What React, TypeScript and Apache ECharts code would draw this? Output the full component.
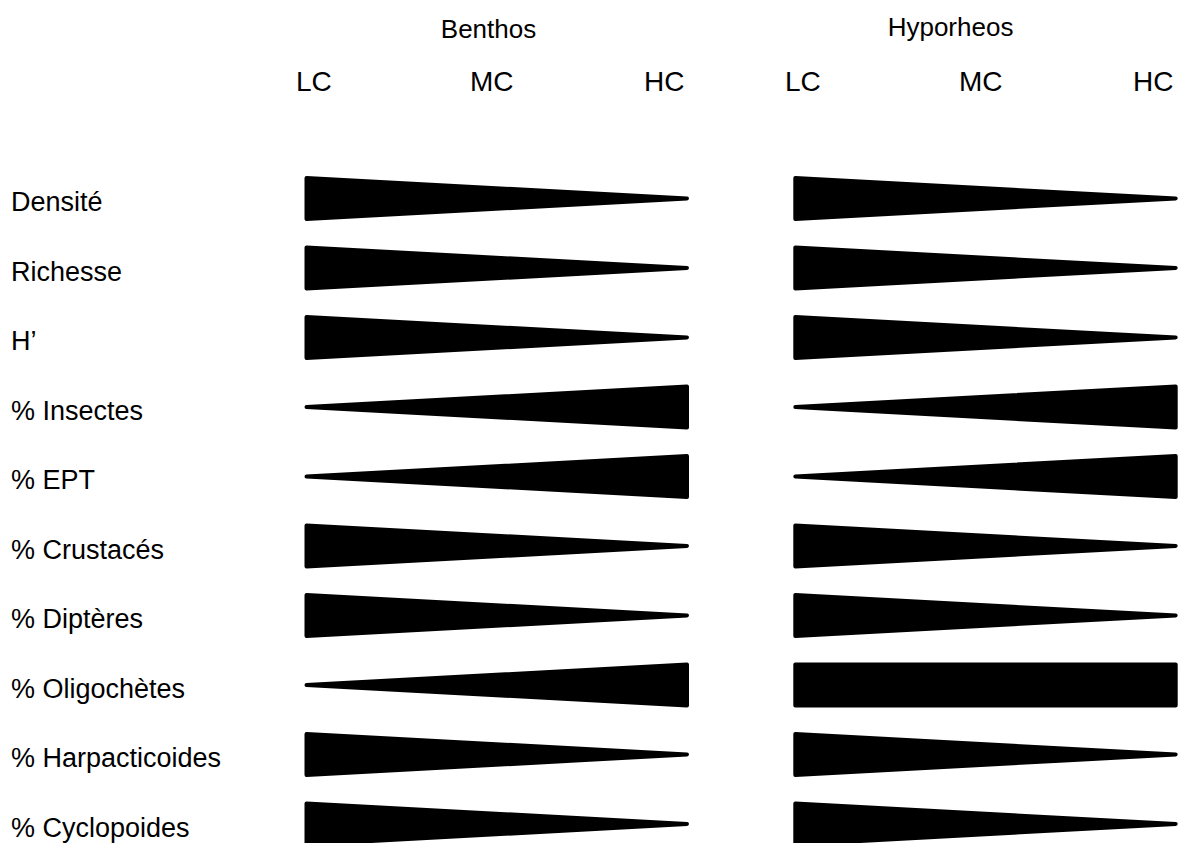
import React, { useEffect, useRef } from "react";
import * as echarts from "echarts";

const rowLabels = [
  "Densité",
  "Richesse",
  "H’",
  "% Insectes",
  "% EPT",
  "% Crustacés",
  "% Diptères",
  "% Oligochètes",
  "% Harpacticoides",
  "% Cyclopoides",
];
const levels = ["LC", "MC", "HC"];
const groups = ["Benthos", "Hyporheos"];

// relative wedge thickness at LC end and at HC end
const benthosLC = [1, 1, 1, 0, 0, 1, 1, 0, 1, 1];
const benthosHC = [0, 0, 0, 1, 1, 0, 0, 1, 0, 0];
const hyporheosLC = [1, 1, 1, 0, 0, 1, 1, 1, 1, 1];
const hyporheosHC = [0, 0, 0, 1, 1, 0, 0, 1, 0, 0];

const FONT = '"Liberation Sans", Arial, sans-serif';

export default function App() {
  const ref = useRef<HTMLDivElement>(null);
  useEffect(() => {
    if (!ref.current) return;
    const chart = echarts.init(ref.current, null, { renderer: "svg" });
    const build = (lc: number[], hc: number[]) => lc.map((v, i) => [i, v, hc[i]]);
    const renderItem = (params: any, api: any) => {
      const row = api.value(0);
      const lc = api.value(1);
      const hc = api.value(2);
      const p0 = api.coord([0, row]);
      const p1 = api.coord([2, row]);
      const band = api.size([0, 1])[1];
      const maxH = band * 0.59;
      const c = p0[1];
      const points = [
        [p0[0], c - (lc * maxH) / 2],
        [p1[0], c - (hc * maxH) / 2],
        [p1[0], c + (hc * maxH) / 2],
        [p0[0], c + (lc * maxH) / 2],
      ];
      return {
        type: "polygon",
        shape: { points },
        style: { fill: "#000", stroke: "#000", lineWidth: 4, lineJoin: "round" },
      };
    };
    const headerLabel = {
      align: "left",
      verticalAlign: "middle",
      margin: 19,
      color: "#000",
      fontSize: 28,
      fontFamily: FONT,
      interval: 0,
    };
    const wedgeTop = 163.75;
    const wedgeH = 695;
    const option: any = {
      animation: false,
      backgroundColor: "#fff",
      textStyle: { fontFamily: FONT },
      grid: [
        { left: 306.5, top: wedgeTop, width: 380.5, height: wedgeH },
        { left: 795.3, top: wedgeTop, width: 380.4, height: wedgeH },
        { left: 296, top: 100, width: 348, height: 10 },
        { left: 785, top: 100, width: 348, height: 10 },
      ],
      xAxis: [
        { type: "category", gridIndex: 0, data: levels, boundaryGap: false, show: false },
        { type: "category", gridIndex: 1, data: levels, boundaryGap: false, show: false },
        {
          type: "category",
          gridIndex: 2,
          data: levels,
          boundaryGap: false,
          position: "top",
          axisLine: { show: false },
          axisTick: { show: false },
          splitLine: { show: false },
          axisLabel: headerLabel,
        },
        {
          type: "category",
          gridIndex: 3,
          data: levels,
          boundaryGap: false,
          position: "top",
          axisLine: { show: false },
          axisTick: { show: false },
          splitLine: { show: false },
          axisLabel: headerLabel,
        },
      ],
      yAxis: [
        {
          type: "category",
          gridIndex: 0,
          data: rowLabels,
          inverse: true,
          axisLine: { show: false },
          axisTick: { show: false },
          splitLine: { show: false },
          axisLabel: {
            align: "left",
            verticalAlign: "top",
            lineHeight: 7,
            margin: 295.5,
            color: "#000",
            fontSize: 27,
            fontFamily: FONT,
            interval: 0,
          },
        },
        { type: "category", gridIndex: 1, data: rowLabels, inverse: true, show: false },
        { type: "value", gridIndex: 2, show: false },
        { type: "value", gridIndex: 3, show: false },
      ],
      graphic: [
        {
          type: "text",
          x: 488.5,
          y: 29,
          style: { text: groups[0], font: `26px ${FONT}`, fill: "#000", align: "center", verticalAlign: "middle" },
        },
        {
          type: "text",
          x: 950.5,
          y: 27,
          style: { text: groups[1], font: `26px ${FONT}`, fill: "#000", align: "center", verticalAlign: "middle" },
        },
      ],
      series: [
        {
          name: groups[0],
          type: "custom",
          xAxisIndex: 0,
          yAxisIndex: 0,
          renderItem,
          encode: { y: 0 },
          data: build(benthosLC, benthosHC),
        },
        {
          name: groups[1],
          type: "custom",
          xAxisIndex: 1,
          yAxisIndex: 1,
          renderItem,
          encode: { y: 0 },
          data: build(hyporheosLC, hyporheosHC),
        },
      ],
    };
    chart.setOption(option);
    return () => chart.dispose();
  }, []);
  return (
    <div
      ref={ref}
      style={{ position: "fixed", left: 0, top: 0, width: 1184, height: 900, background: "#fff" }}
    />
  );
}
